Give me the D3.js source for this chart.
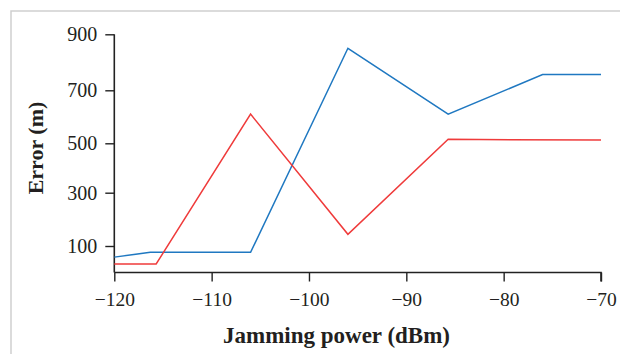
<!DOCTYPE html>
<html><head><meta charset="utf-8">
<script src="https://cdn.jsdelivr.net/npm/d3@7"></script>
<style>html,body{margin:0;padding:0;background:#fff;}svg{display:block;}</style>
</head><body>
<script>
const xTicks = [-120, -110, -100, -90, -80, -70];
const yTicks = [100, 300, 500, 700, 900];
const blueX = [-120, -116.3, -106, -96, -85.7, -76, -70];
const blueY = [58, 76, 76, 850, 610, 756, 756];
const redX = [-120, -115.7, -106, -96, -85.7, -70];
const redY = [32, 32, 610, 144, 515, 512];

const W = 620, H = 354;
const svg = d3.select("body").append("svg").attr("width", W).attr("height", H);

// frame
svg.append("path").attr("d", "M11,354 V11 H620").attr("fill", "none")
  .attr("stroke", "#cfcfcf").attr("stroke-width", 1.5);

const x = d3.scaleLinear().domain([-120, -70]).range([114.3, 601]);
const y = d3.scaleLinear().domain([0, 100, 300, 500, 700, 900])
  .range([272.5, 246, 192.7, 143.3, 90.3, 34.3]);

const font = "'Liberation Serif', 'DejaVu Serif', serif";

const gx = svg.append("g").attr("transform", "translate(0,272.5)")
  .call(d3.axisBottom(x).tickValues(xTicks).tickSize(9).tickPadding(11)
    .tickFormat(d => String(d).replace("-", "\u2212")));
const gy = svg.append("g").attr("transform", "translate(114.3,0)")
  .call(d3.axisLeft(y).tickValues(yTicks).tickSize(9).tickPadding(8));
[gx, gy].forEach(g => {
  g.select(".domain").attr("stroke", "#222").attr("stroke-width", 1.6);
  g.selectAll(".tick line").attr("stroke", "#222").attr("stroke-width", 1.4);
  g.selectAll("text").attr("font-family", font).attr("fill", "#231f20");
});
gx.selectAll("text").attr("font-size", 19.5);
gy.selectAll("text").attr("font-size", 20);
gy.select(".domain").attr("d", `M0,${y(900)}V${y(0)}`);
gx.select(".domain").attr("d", `M${x(-120)},0H${x(-70)}V9`);

const line = d3.line().x(d => x(d[0])).y(d => y(d[1]));
svg.append("path").datum(blueX.map((v, i) => [v, blueY[i]]))
  .attr("d", line).attr("fill", "none").attr("stroke", "#1f78c1").attr("stroke-width", 1.5);
svg.append("path").datum(redX.map((v, i) => [v, redY[i]]))
  .attr("d", line).attr("fill", "none").attr("stroke", "#ef3b3b").attr("stroke-width", 1.5);

svg.append("text").attr("x", 336.5).attr("y", 343).attr("text-anchor", "middle")
  .attr("font-family", font).attr("font-weight", "bold").attr("font-size", 23)
  .attr("fill", "#231f20").text("Jamming power (dBm)");
svg.append("text").attr("transform", "translate(43,148) rotate(-90)").attr("text-anchor", "middle")
  .attr("font-family", font).attr("font-weight", "bold").attr("font-size", 22)
  .attr("fill", "#231f20").text("Error (m)");
</script>
</body></html>
